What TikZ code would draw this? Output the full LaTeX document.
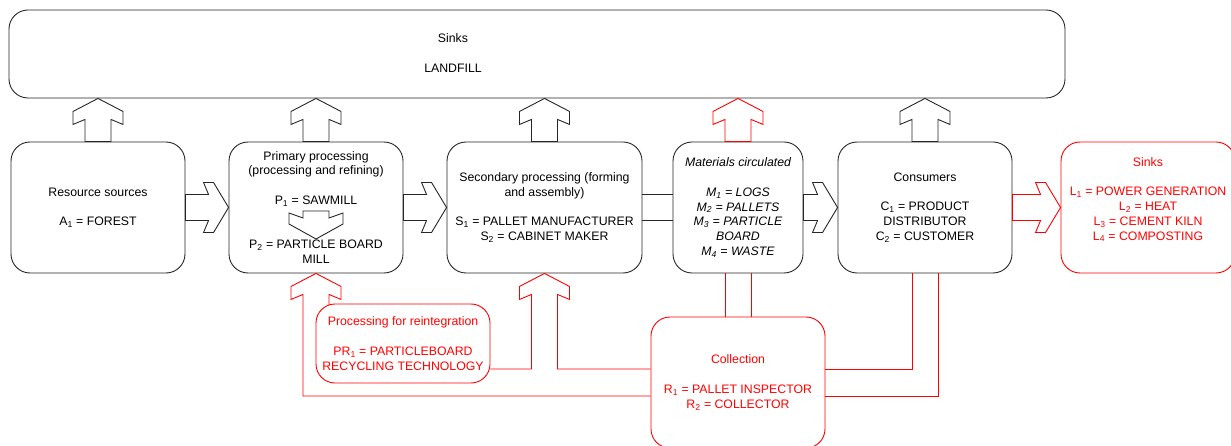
\documentclass[tikz,border=0pt]{standalone}
\usepackage{fontspec}
\setmainfont{Liberation Sans}
\usetikzlibrary{calc}

\newcommand\sbs[1]{\textsubscript{#1}}

% Block arrows: #1 style, #2 start point (middle of the shaft end), #3 point whose
% other coordinate gives the tip.
\newcommand\blockup[3]{%
  \draw[#1] let \p1=(#2), \p2=(#3) in
    (\x1,\y2) -- ({\x1+25pt},{\y2-13pt}) -- ({\x1+25pt},{\y2-26pt}) -- ({\x1+13pt},{\y2-21pt})
    -- ({\x1+13pt},\y1) -- ({\x1-13pt},\y1) -- ({\x1-13pt},{\y2-21pt})
    -- ({\x1-25pt},{\y2-26pt}) -- ({\x1-25pt},{\y2-13pt}) -- cycle;}
\newcommand\blockdown[3]{%
  \draw[#1] let \p1=(#2), \p2=(#3) in
    (\x1,\y2) -- ({\x1+27pt},{\y2+15pt}) -- ({\x1+27pt},{\y2+26pt}) -- ({\x1+13pt},{\y2+21pt})
    -- ({\x1+13pt},\y1) -- ({\x1-13pt},\y1) -- ({\x1-13pt},{\y2+21pt})
    -- ({\x1-27pt},{\y2+26pt}) -- ({\x1-27pt},{\y2+15pt}) -- cycle;}
\newcommand\blockright[3]{%
  \draw[#1] let \p1=(#2), \p2=(#3) in
    (\x2,\y1) -- ({\x2-15pt},{\y1+25pt}) -- ({\x2-25pt},{\y1+25pt}) -- ({\x2-20pt},{\y1+13pt})
    -- (\x1,{\y1+13pt}) -- (\x1,{\y1-13pt}) -- ({\x2-20pt},{\y1-13pt})
    -- ({\x2-25pt},{\y1-25pt}) -- ({\x2-15pt},{\y1-25pt}) -- cycle;}

\tikzset{
  txt/.style={font=\fontsize{12.3}{14.8}\selectfont, align=center, inner sep=0pt},
  box/.style={txt, draw=black!85, line width=0.9pt, rounded corners=19pt,
    minimum width=174pt, minimum height=131pt},
  rbox/.style={box, draw=red, text=red},
  bl/.style={draw=black!85, line width=0.9pt, line join=miter},
  rl/.style={draw=red, line width=0.9pt, line join=miter},
}

\begin{document}
\begin{tikzpicture}[x=1pt, y=-1pt]
\useasboundingbox (0,0) rectangle (1231,446);
\clip (0,0) rectangle (1231,446);

% landfill
\node[box, minimum width=1056pt, minimum height=88pt] (top) at (537,54) {};
\node[txt] (landfill) at (453,53) {Sinks\\[14.8pt]LANDFILL};

% main chain
\node[box] (res) at (98,207.5) {Resource sources\\[14.8pt]A\sbs{1} = FOREST};
\node[box] (pri) at (316,207.5) {Primary processing\\(processing and refining)\\[14.8pt]%
  P\sbs{1} = SAWMILL\\[29.6pt]P\sbs{2} = PARTICLE BOARD\\MILL};
\node[box, minimum width=195pt] (sec) at (544.5,207.5) {Secondary processing (forming\\and assembly)\\[14.8pt]%
  S\sbs{1} = PALLET MANUFACTURER\\S\sbs{2} = CABINET MAKER};
\node[box, minimum width=130pt, font=\fontsize{12.3}{14.8}\selectfont\itshape] (mat) at (738,207.5)
  {Materials circulated\\[14.8pt]M\sbs{1} = LOGS\\M\sbs{2} = PALLETS\\M\sbs{3} = PARTICLE\\BOARD\\M\sbs{4} = WASTE};
\node[box] (con) at (925,207.5) {Consumers\\[14.8pt]C\sbs{1} = PRODUCT\\DISTRIBUTOR\\C\sbs{2} = CUSTOMER};
\node[rbox] (snk) at (1148,207.5) {};
\node[txt, text=red] (snktext) at (1148,199.5) {Sinks\\[14.8pt]L\sbs{1} = POWER GENERATION\\%
  L\sbs{2} = HEAT\\L\sbs{3} = CEMENT KILN\\L\sbs{4} = COMPOSTING};

% recovery loop
\node[rbox, minimum height=79pt] (pr) at (403,343.5)
  {Processing for reintegration\\[14.8pt]PR\sbs{1} = PARTICLEBOARD\\RECYCLING TECHNOLOGY};
\node[rbox] (col) at (738,382.5) {Collection\\[14.8pt]R\sbs{1} = PALLET INSPECTOR\\R\sbs{2} = COLLECTOR};

% flows to landfill
\blockup{bl}{res.north}{top.south}
\blockup{bl}{pri.north}{top.south}
\blockup{bl}{sec.north}{top.south}
\blockup{rl}{mat.north}{top.south}
\blockup{bl}{con.north}{top.south}

% flows along the chain
\blockright{bl}{res.east}{pri.west}
\blockright{bl}{pri.east}{sec.west}
\draw[bl] ($(sec.east)+(0,-13)$) -- ($(mat.west)+(0,-13)$);
\draw[bl] ($(sec.east)+(0,13)$) -- ($(mat.west)+(0,13)$);
\blockright{bl}{mat.east}{con.west}
\blockright{rl}{con.east}{snk.west}

% sawmill to particle board mill
\blockdown{bl}{$(pri.center)+(0,3.5)$}{$(pri.center)+(0,31.5)$}

% collection
\draw[rl] ($(mat.south)+(-13,0)$) -- ($(col.north)+(-13,0)$);
\draw[rl] ($(mat.south)+(13,0)$) -- ($(col.north)+(13,0)$);
\draw[rl] ($(con.south)+(-13,0)$) |- ($(col.east)+(0,-13.5)$);
\draw[rl] ($(con.south)+(13,0)$) |- ($(col.east)+(0,13.5)$);

% reintegration into primary processing
\draw[rl] ($(col.west)+(0,13.5)$) -| ($(pri.south)+(-13,21)$) -- ++(-12,5) -- ++(0,-13)
  -- (pri.south) -- ++(25,13) -- ++(0,13) -- ++(-12,-5) -- ++(0,10.5);
% reintegration into secondary processing
\draw[rl] ($(pr.east |- col.west)+(0,-13.5)$) -| ($(sec.south)+(-13,21)$) -- ++(-12,5) -- ++(0,-13)
  -- (sec.south) -- ++(25,13) -- ++(0,13) -- ++(-12,-5) |- ($(col.west)+(0,-13.5)$);
\end{tikzpicture}
\end{document}
